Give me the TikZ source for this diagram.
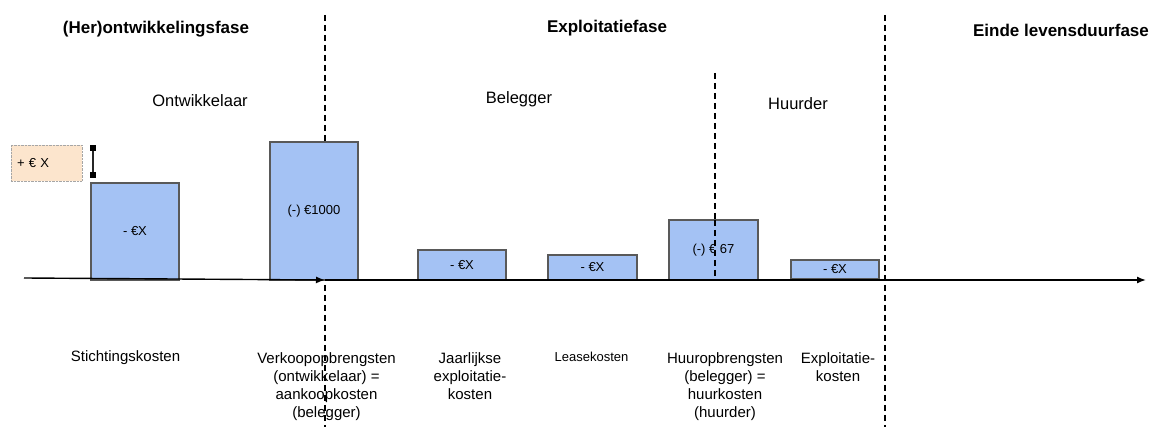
\documentclass[tikz,border=0pt]{standalone}
\usepackage{fontspec}
\setmainfont{Liberation Sans}
\usetikzlibrary{arrows.meta}
\definecolor{barblue}{HTML}{A4C2F4}
\definecolor{barline}{HTML}{595959}
\definecolor{peach}{HTML}{FCE5CD}
\begin{document}
\begin{tikzpicture}[x=1pt,y=-1pt,
  bar/.style={draw=barline,fill=barblue,line width=1.1pt,inner sep=0pt,
    font=\fontsize{13}{15}\selectfont},
  phase/.style={font=\fontsize{17}{20}\selectfont\bfseries},
  actor/.style={font=\fontsize{16.5}{20}\selectfont},
  cost/.style={font=\fontsize{15}{18}\selectfont,align=center,anchor=north,inner sep=0pt},
  divider/.style={line width=1.2pt,dash pattern=on 6pt off 4pt},
  axis/.style={line width=1.4pt,-{Latex[length=9pt,width=7pt]}}]
\useasboundingbox (0,0) rectangle (1149,427);

% phase dividers
\draw[divider] (325,15) -- (325,427);
\draw[divider] (885,15) -- (885,427);
\draw[divider] (715,73) -- (715,276);

% phase headings
\node[phase] (ph1) at (156,29) {(Her)ontwikkelingsfase};
\node[phase] (ph2) at (607,28) {Exploitatiefase};
\node[phase] (ph3) at (1061,30) {Einde levensduurfase};

% parties
\node[actor] (ontw) at (200,101) {Ontwikkelaar};
\node[actor] (beleg) at (519,99) {Belegger};
\node[actor] (huur) at (798,104) {Huurder};

% cash-flow bars
\node[bar,minimum width=88pt,minimum height=97pt] (b1) at (135,231.5) {- €X};
\node[bar,minimum width=88pt,minimum height=138pt] (b2) at (314,211) {(-) €1000};
\node[bar,minimum width=88pt,minimum height=30pt] (b3) at (462,265) {- €X};
\node[bar,minimum width=89pt,minimum height=25pt] (b4) at (592.5,267.5) {- €X};
\node[bar,minimum width=89pt,minimum height=60pt] (b5) at (713.5,250) {(-) € 67};
\node[bar,minimum width=88pt,minimum height=19pt] (b6) at (835,269.5) {- €X};

% dashed divider drawn over the rent bar
\draw[divider] (715,220) -- (715,276);

% extra margin on top of the construction costs
\node[draw=gray!70,densely dotted,fill=peach,minimum width=71pt,minimum height=36pt,
  text width=59pt,align=left,inner xsep=6pt,font=\fontsize{13}{15}\selectfont]
  (extra) at (46.5,163) {+ € X};
\coordinate (mtop) at (93,148);
\coordinate (mbot) at (93,175);
\draw[line width=1.4pt,black!85] (mtop) -- (mbot);
\fill (mtop) ++(-3,-3) rectangle ++(6,6);
\fill (mbot) ++(-3,-3) rectangle ++(6,6);

% time axis
\coordinate (t0) at (24,278);
\coordinate (t1) at (325,280);
\coordinate (t2) at (1146,280);
\draw[axis] (t0) -- (t1);
\draw[axis] (t1) -- (t2);

% cost descriptions
\node[cost] (l1) at (125.5,350) {Stichtingskosten};
\node[cost] (l2) at (326.5,352) {Verkoopopbrengsten\\(ontwikkelaar) =\\aankoopkosten\\(belegger)};
\node[cost] (l3) at (470,352) {Jaarlijkse\\exploitatie-\\kosten};
\node[cost,font=\fontsize{13}{16}\selectfont] (l4) at (591.5,352) {Leasekosten};
\node[cost] (l5) at (725,352) {Huuropbrengsten\\(belegger) =\\huurkosten\\(huurder)};
\node[cost] (l6) at (838,352) {Exploitatie-\\kosten};
\end{tikzpicture}
\end{document}
